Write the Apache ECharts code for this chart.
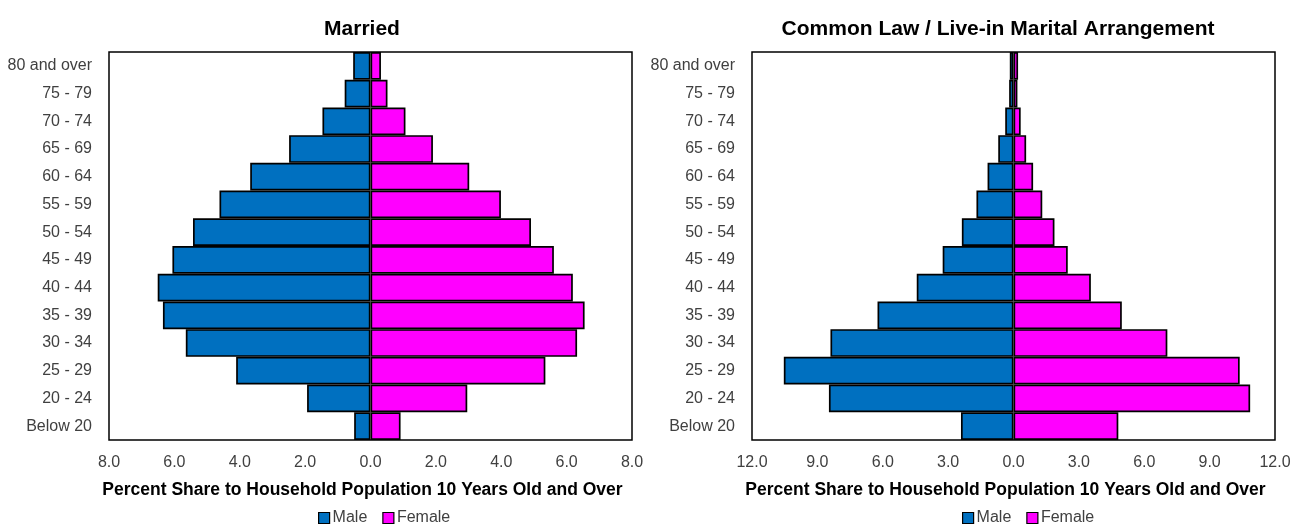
<!DOCTYPE html>
<html>
<head>
<meta charset="utf-8">
<script src="https://cdn.jsdelivr.net/npm/echarts@6/dist/echarts.min.js"></script>
<style>
html,body{margin:0;padding:0;background:#fff;}
#chart{width:1301px;height:527px;}
</style>
</head>
<body>
<div id="chart"></div>
<script>
// Age groups, bottom to top
const categories = ['Below 20','20 - 24','25 - 29','30 - 34','35 - 39','40 - 44','45 - 49','50 - 54','55 - 59','60 - 64','65 - 69','70 - 74','75 - 79','80 and over'];

// Married (percent)
const marriedMale   = [0.50, 1.94, 4.11, 5.65, 6.35, 6.51, 6.06, 5.43, 4.62, 3.68, 2.49, 1.47, 0.79, 0.53];
const marriedFemale = [0.92, 2.96, 5.35, 6.32, 6.55, 6.19, 5.61, 4.91, 3.99, 3.02, 1.91, 1.07, 0.52, 0.32];

// Common Law / Live-in (percent)
const commonMale    = [2.41, 8.47, 10.54, 8.40, 6.24, 4.44, 3.25, 2.37, 1.70, 1.19, 0.70, 0.38, 0.20, 0.17];
const commonFemale  = [4.81, 10.86, 10.38, 7.06, 4.97, 3.55, 2.49, 1.88, 1.32, 0.90, 0.58, 0.33, 0.18, 0.21];

const titles = ['Married', 'Common Law / Live-in Marital Arrangement'];
const axisName = 'Percent Share to Household Population 10 Years Old and Over';
const seriesNames = ['Male', 'Female'];

const MALE_COLOR = '#0070C0';
const FEMALE_COLOR = '#FF00FF';
const tickFont = "'Liberation Sans',Arial,sans-serif";
const boldFont = "'Liberation Sans',Arial,sans-serif";

const chart = echarts.init(document.getElementById('chart'), null, {renderer: 'canvas'});

function xAxisFor(gridIndex, max, interval) {
  return {
    gridIndex: gridIndex,
    type: 'value',
    min: -max, max: max, interval: interval,
    axisLine: {show: false},
    axisTick: {show: false},
    splitLine: {show: false},
    axisLabel: {
      margin: 15,
      color: '#404040',
      fontFamily: tickFont,
      fontSize: 16,
      formatter: v => Math.abs(v).toFixed(1)
    },
    name: axisName,
    nameLocation: 'middle',
    nameGap: 41,
    nameTextStyle: {
      color: '#000',
      fontFamily: boldFont,
      fontWeight: 'bold',
      fontSize: 17.5,
      padding: [0, 16, 0, 0]
    }
  };
}
function yAxisFor(gridIndex) {
  return {
    gridIndex: gridIndex,
    type: 'category',
    data: categories,
    axisLine: {show: false},
    axisTick: {show: false},
    splitLine: {show: false},
    axisLabel: {
      margin: 17,
      color: '#404040',
      fontFamily: tickFont,
      fontSize: 16
    }
  };
}
function barSeries(name, data, color, idx) {
  return {
    name: name,
    type: 'bar',
    xAxisIndex: idx, yAxisIndex: idx,
    data: data,
    barWidth: '100%',
    barGap: '-100%',
    barCategoryGap: '0%',
    itemStyle: {color: color, borderColor: '#000', borderWidth: 1.7},
    emphasis: {disabled: true}
  };
}

const legendStyle = {
  orient: 'horizontal',
  top: 510,
  padding: 0,
  itemWidth: 11,
  itemHeight: 11,
  itemGap: 15,
  icon: 'rect',
  itemStyle: {borderColor: '#000', borderWidth: 1.2},
  textStyle: {color: '#404040', fontFamily: tickFont, fontSize: 16, padding: [0,0,0,-2]},
  data: seriesNames,
  selectedMode: false
};

chart.setOption({
  animation: false,
  backgroundColor: '#fff',
  title: [
    {text: titles[0], left: 357, top: 14, textAlign: 'center',
     textStyle: {fontFamily: boldFont, fontWeight: 'bold', fontSize: 21, color: '#000'}},
    {text: titles[1], left: 993, top: 14, textAlign: 'center',
     textStyle: {fontFamily: boldFont, fontWeight: 'bold', fontSize: 21, color: '#000'}}
  ],
  legend: [
    Object.assign({}, legendStyle, {left: 318}),
    Object.assign({}, legendStyle, {left: 962})
  ],
  grid: [
    {left: 109, top: 52, width: 523, height: 388, show: true, borderColor: '#000', borderWidth: 1.5, containLabel: false, outerBoundsMode: 'none'},
    {left: 752, top: 52, width: 523, height: 388, show: true, borderColor: '#000', borderWidth: 1.5, containLabel: false, outerBoundsMode: 'none'}
  ],
  xAxis: [xAxisFor(0, 8, 2), xAxisFor(1, 12, 3)],
  yAxis: [yAxisFor(0), yAxisFor(1)],
  series: [
    barSeries(seriesNames[0], marriedMale.map(v => -v), MALE_COLOR, 0),
    barSeries(seriesNames[1], marriedFemale, FEMALE_COLOR, 0),
    barSeries(seriesNames[0], commonMale.map(v => -v), MALE_COLOR, 1),
    barSeries(seriesNames[1], commonFemale, FEMALE_COLOR, 1)
  ]
});
</script>
</body>
</html>
